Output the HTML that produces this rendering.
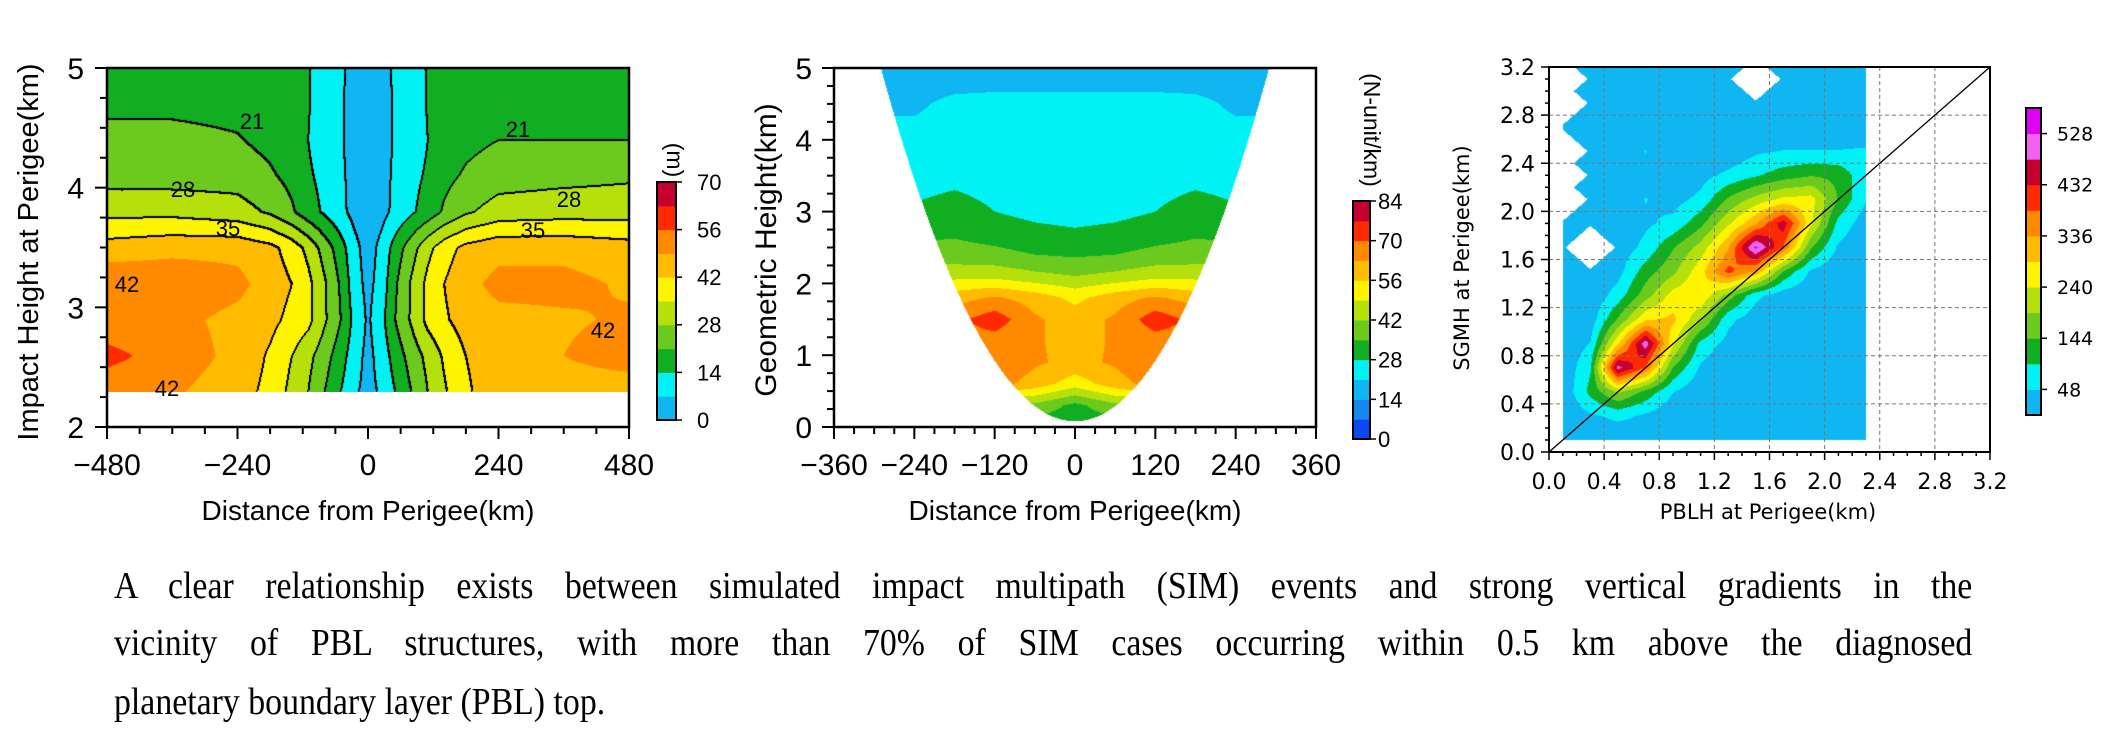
<!DOCTYPE html>
<html><head><meta charset="utf-8"><style>
html,body{margin:0;padding:0;background:#fff;}
body{width:2126px;height:744px;position:relative;overflow:hidden;font-family:"Liberation Sans",sans-serif;}
canvas{position:absolute;}
svg{position:absolute;left:0;top:0;}
.cap{position:absolute;left:114px;width:2088px;font-family:"Liberation Serif",serif;font-size:38px;line-height:58px;white-space:nowrap;color:#000;transform:scaleX(0.89);transform-origin:0 0;}
.j{text-align:justify;text-align-last:justify;}
</style></head><body>
<canvas id="c1"></canvas>
<canvas id="c2"></canvas>
<canvas id="c3"></canvas>
<svg id="ov" width="2126" height="744"></svg>
<div class="cap j" style="top:557px">A clear relationship exists between simulated impact multipath (SIM) events and strong vertical gradients in the</div>
<div class="cap j" style="top:614px">vicinity of PBL structures, with more than 70% of SIM cases occurring within 0.5 km above the diagnosed</div>
<div class="cap" style="top:673px">planetary boundary layer (PBL) top.</div>
<script>
// ---------- DATA ----------
const p1X = [-480,-360,-240,-180,-140,-110,-80,-50,-25,0,25,50,80,110,140,180,240,360,480];
const p1H = [2.3,2.6,2.9,3.2,3.5,3.8,4.1,4.4,4.7,5.0];
const p1Values = [
 [52,50,45,40,33,28,21,14,8,5,8,14,21,28,34,41,46,45,44],
 [58,53,47,41,35,30,24,17,10,5,10,17,24,30,36,42,46,49,53],
 [52,51,47,44,40,37,29,21,12,6,12,21,29,37,41,45,47,48,50],
 [55,54,51,46,42,37,29,20,10,5,10,20,29,37,42,47,51,51,48],
 [45,47,47,44,39,33,25,17,9,4,9,17,25,33,39,44,47,47,45],
 [33,33,31,27,22,17,13,8.5,5,3,5,8.5,13,17,22,27,31,32,32],
 [25,25,25,22,19,15,12,8,5,3,5,8,12,15,19,22,25,26,27],
 [23,23,21.5,19,16,14,10,7.5,5,3,5,7.5,10,14,16,19,21,21,21],
 [19.5,19.5,19,18,16,14.5,10,7.5,5,3,5,7.5,10,14.5,16,18,19,19,19],
 [16,16,16,15,15,14.5,11,8,5,3,5,8,11,14.5,15,15,16,16,16]
];
const p1Ticks = [0,14,28,42,56,70];
const p1ContourLevels = [7,14,21,28,35,42];

const p2X = [-300,-240,-180,-120,-60,0,60,120,180,240,300];
const p2H = [0,0.3,0.6,0.9,1.2,1.5,1.8,2.1,2.4,2.7,3.0,3.5,4.0,4.5,5.0];
const p2Values = [
 [30,30,30,30,30,30,30,30,30,30,30],
 [40,40,40,40,40,33,40,40,40,40,40],
 [60,60,66,66,60,52,60,66,66,60,60],
 [65,65,68,70,64,61,64,70,68,65,65],
 [66,66,67,67,64,60,64,67,67,66,66],
 [66,66,68,74,64,60,64,74,68,66,66],
 [58,58,60,64,60,54,60,64,60,58,58],
 [46,46,47,47,44,42,44,47,47,46,46],
 [38,38,38,37,35,34,35,37,38,38,38],
 [33,33,34,32,30,29,30,32,34,33,33],
 [29,29,31,28,26,25,26,28,31,29,29],
 [25,25,26,25,24,24,24,25,26,25,25],
 [23,23,23,23,23,23,23,23,23,23,23],
 [20,20,22.5,22.5,22.5,22.5,22.5,22.5,22.5,20,20],
 [17,17,17,18,18,18,18,18,17,17,17]
];
const p2Ticks = [0,14,28,42,56,70,84];

const p3X = [0.1,0.3,0.5,0.7,0.9,1.1,1.3,1.5,1.7,1.9,2.1,2.3];
const p3Y = [0.1,0.3,0.5,0.7,0.9,1.1,1.3,1.5,1.7,1.9,2.1,2.3,2.5,2.7,2.9,3.1];
const p3Values = [
 [10,10,10,30,10,10,10,10,10,10,10,10],
 [10,40,60,40,10,10,10,10,10,10,10,10],
 [10,110,200,130,50,10,10,10,10,10,10,10],
 [10,90,500,380,140,40,10,10,10,10,10,10],
 [10,50,280,510,250,80,30,10,10,10,10,10],
 [10,20,150,280,300,200,60,20,10,10,10,10],
 [10,10,70,170,260,280,170,60,20,10,10,10],
 [10,10,30,120,180,270,400,330,140,40,10,10],
 [10,null,20,60,140,210,330,540,380,150,40,10],
 [10,10,20,40,60,130,230,330,460,250,80,20],
 [null,10,10,50,30,60,150,210,250,260,140,50],
 [null,10,10,30,10,30,60,90,120,140,130,60],
 [null,10,10,50,10,10,10,40,50,50,50,55],
 [10,10,10,20,10,10,10,10,10,10,10,10],
 [null,10,10,10,10,10,10,10,10,10,10,10],
 [null,10,10,10,10,10,10,null,10,10,10,10]
];
const p3Ticks = [48,144,240,336,432,528];
const p3AxisTicks = [0,0.4,0.8,1.2,1.6,2.0,2.4,2.8,3.2];

// ---------- COLORS ----------
const C = {b3:'#0c48f0',b2:'#1688f2',dsb:'#10b6f2',cy:'#00f2f4',dg:'#12ae22',mg:'#6cca1e',yg:'#b6e00c',ye:'#fff400',oy:'#ffbb00',or:'#ff8a00',rd:'#ff2a00',cr:'#c6002e',vi:'#f262f0',mgt:'#e000f2'};
const cols1 = [C.dsb,C.cy,C.dg,C.mg,C.yg,C.ye,C.oy,C.or,C.rd,C.cr];
const cols2 = [C.b3,C.b2,C.dsb,C.cy,C.dg,C.mg,C.yg,C.ye,C.oy,C.or,C.rd,C.cr];
const cols3 = [C.dsb,C.cy,C.dg,C.mg,C.yg,C.ye,C.oy,C.or,C.rd,C.cr,C.vi,C.mgt];

function hex(c){return [parseInt(c.slice(1,3),16),parseInt(c.slice(3,5),16),parseInt(c.slice(5,7),16)];}
function seg(arr,v){let i=0;while(i<arr.length-2&&v>arr[i+1])i++;let t=(v-arr[i])/(arr[i+1]-arr[i]);t=Math.max(0,Math.min(1,t));return [i,t];}
function interp(xs,ys,vals,x,y){
 const [i,tx]=seg(xs,x),[j,ty]=seg(ys,y);
 const g=(r,c)=>{const v=vals[r][c];return v===null?10:v;};
 const a=g(j,i)*(1-tx)+g(j,i+1)*tx, b=g(j+1,i)*(1-tx)+g(j+1,i+1)*tx;
 return a*(1-ty)+b*ty;
}

// ---------- FIELD RENDER ----------
function field(id,L,T,Wd,Ht,xv0,xv1,yv0,yv1,xs,ys,vals,step,cols,mask,contours){
 const cv=document.getElementById(id);cv.width=Wd;cv.height=Ht;cv.style.left=L+'px';cv.style.top=T+'px';
 const ctx=cv.getContext('2d');const img=ctx.createImageData(Wd,Ht);const d=img.data;
 const rgb=cols.map(hex);const cls=new Int16Array(Wd*Ht).fill(-1);
 for(let py=0;py<Ht;py++){const y=yv1-(py+0.5)/Ht*(yv1-yv0);
  for(let px=0;px<Wd;px++){const x=xv0+(px+0.5)/Wd*(xv1-xv0);
   if(mask&&!mask(x,y))continue;
   const v=interp(xs,ys,vals,x,y);let k=Math.floor(v/step);k=Math.max(0,Math.min(cols.length-1,k));
   const o=(py*Wd+px)*4;d[o]=rgb[k][0];d[o+1]=rgb[k][1];d[o+2]=rgb[k][2];d[o+3]=255;
   if(contours){let c=0;for(const l of contours)if(v>=l)c++;cls[py*Wd+px]=c;}
  }}
 if(contours){for(let py=0;py<Ht-1;py++)for(let px=0;px<Wd-1;px++){const c=cls[py*Wd+px];if(c<0)continue;
   const r=cls[py*Wd+px+1],b=cls[(py+1)*Wd+px];
   if((r>=0&&r!==c)||(b>=0&&b!==c)){for(const [dx,dy] of [[0,0],[1,0],[0,1]]){const o=((py+dy)*Wd+px+dx)*4;d[o]=0;d[o+1]=0;d[o+2]=0;d[o+3]=255;}}}}
 ctx.putImageData(img,0,0);
}
field('c1',107,68,522,324,-480,480,2.3,5,p1X,p1H,p1Values,7,cols1,null,p1ContourLevels);
field('c2',834,68,482,359,-360,360,0,5,p2X,p2H,p2Values,7,cols2,(x,h)=>Math.abs(x)<=290*Math.sqrt(Math.max(0,h-0.08)/4.92),null);
const p3Null=[];p3Values.forEach((r,j)=>r.forEach((v,i)=>{if(v===null)p3Null.push([i,j]);}));
field('c3',1549,67,441,385,0,3.2,0,3.2,p3X,p3Y,p3Values,48,cols3,(x,y)=>{
 if(x<0.1||x>2.3||y<0.1)return false;
 const fx=(x-0.1)/0.2,fy=(y-0.1)/0.2;
 for(const [i,j] of p3Null){if(Math.abs(fx-i)+Math.abs(fy-j)<0.9)return false;}
 return true;},null);

// ---------- SVG OVERLAY ----------
const NS='http://www.w3.org/2000/svg';const ov=document.getElementById('ov');
function mk(tag,a,p){const e=document.createElementNS(NS,tag);for(const k in a)e.setAttribute(k,a[k]);(p||ov).appendChild(e);return e;}
function line(x1,y1,x2,y2,w,extra){return mk('line',Object.assign({x1,y1,x2,y2,stroke:'#000','stroke-width':w},extra||{}));}
function txt(s,x,y,size,anchor,fam,rot){const e=mk('text',{x,y,'font-size':size,'text-anchor':anchor||'middle','font-family':fam||'Liberation Sans, sans-serif',fill:'#000'});if(rot)e.setAttribute('transform','rotate('+rot+' '+x+' '+y+')');e.textContent=s;return e;}

// Panel 1 axes
const a1={x0:107,x1:629,y0:68,y1:427};
const sx1=v=>a1.x0+(v+480)/960*(a1.x1-a1.x0), sy1=v=>a1.y1-(v-2)/3*(a1.y1-a1.y0);
let fr=mk('rect',{x:a1.x0,y:a1.y0,width:a1.x1-a1.x0,height:a1.y1-a1.y0,fill:'none',stroke:'#000','stroke-width':2.5});


for(let v=-480;v<=480;v+=60){const maj=v%240===0;const t=line(sx1(v),a1.y1,sx1(v),a1.y1+(maj?12:7),2);
 
 
 if(maj){const l=txt(v<0?'\u2212'+(-v):String(v),sx1(v),475,30);
  
  }}
for(let v=2;v<=5.001;v+=0.25){const maj=Math.abs(v-Math.round(v))<1e-6;const t=line(a1.x0-(maj?12:7),sy1(v),a1.x0,sy1(v),2);
 
 
 if(maj){const l=txt(String(Math.round(v)),84,sy1(v)+11,30,'end');
  
  }}
let t1=txt('Distance from Perigee(km)',368,520,28);


let t2=txt('Impact Height at Perigee(km)',38,252,29,'middle',null,-90);


const cLabels=[['21',252,129],['21',518,137],['28',183,197],['28',569,207],['35',228,236],['35',533,238],['42',127,292],['42',603,338],['42',167,396]];
for(const [s,x,y] of cLabels){const e=txt(s,x,y,22);
 
 }

function colorbar(x0,x1,y0,y1,cols,vmax,ticks,lx,size,fam,name){
 const n=cols.length,h=(y1-y0)/n;
 cols.forEach((c,i)=>{const r=mk('rect',{x:x0,y:y1-(i+1)*h,width:x1-x0,height:h+0.5,fill:c});
  
  });
 const f=mk('rect',{x:x0,y:y0,width:x1-x0,height:y1-y0,fill:'none',stroke:'#000','stroke-width':2});
 
 
 ticks.forEach(v=>{const y=y1-v/vmax*(y1-y0);const t=line(x1,y,x1+6,y,1.5);
  
  
  const l=txt(String(v),lx,y+size*0.36,size,'start',fam);
  
  });
}
colorbar(657,676,182,420,cols1,70,p1Ticks,697,22,null,'colorbar1');
let u1=txt('(m)',667,160,23,'middle',null,90);



// Panel 2 axes
const a2={x0:834,x1:1316,y0:68,y1:427};
const sx2=v=>a2.x0+(v+360)/720*(a2.x1-a2.x0), sy2=v=>a2.y1-v/5*(a2.y1-a2.y0);
fr=mk('rect',{x:a2.x0,y:a2.y0,width:a2.x1-a2.x0,height:a2.y1-a2.y0,fill:'none',stroke:'#000','stroke-width':2.5});


for(let v=-360;v<=360;v+=30){const maj=v%120===0;const t=line(sx2(v),a2.y1,sx2(v),a2.y1+(maj?12:7),2);
 
 
 if(maj){const l=txt(v<0?'\u2212'+(-v):String(v),sx2(v),475,30);
  
  }}
for(let v=0;v<=5.001;v+=0.25){const maj=Math.abs(v-Math.round(v))<1e-6;const t=line(a2.x0-(maj?12:7),sy2(v),a2.x0,sy2(v),2);
 
 
 if(maj){const l=txt(String(Math.round(v)),812,sy2(v)+11,30,'end');
  
  }}
t1=txt('Distance from Perigee(km)',1075,520,28);


t2=txt('Geometric Height(km)',776,250,30,'middle',null,-90);


colorbar(1353,1370,201,439,cols2,84,p2Ticks,1378,22,null,'colorbar2');
u1=txt('(N-unit/km)',1364,130,23,'middle',null,90);



// Panel 3 axes
const a3={x0:1549,x1:1990,y0:67,y1:452};
const sx3=v=>a3.x0+v/3.2*(a3.x1-a3.x0), sy3=v=>a3.y1-v/3.2*(a3.y1-a3.y0);
p3AxisTicks.forEach(v=>{if(v>0&&v<3.2){
 const g1=line(sx3(v),a3.y0,sx3(v),a3.y1,1,{stroke:'#777','stroke-dasharray':'4,3'});
 
 
 const g2=line(a3.x0,sy3(v),a3.x1,sy3(v),1,{stroke:'#777','stroke-dasharray':'4,3'});
 
 }});
const dg=line(sx3(0),sy3(0),sx3(3.2),sy3(3.2),1.3);


fr=mk('rect',{x:a3.x0,y:a3.y0,width:a3.x1-a3.x0,height:a3.y1-a3.y0,fill:'none',stroke:'#000','stroke-width':2});


for(let k=0;k<=32;k++){const v=k/10;const maj=k%4===0;
 const t=line(sx3(v),a3.y1,sx3(v),a3.y1+(maj?8:4),1.5);
 
 
 const u=line(a3.x0-(maj?8:4),sy3(v),a3.x0,sy3(v),1.5);
 
 }
p3AxisTicks.forEach(v=>{
 const l=txt(v.toFixed(1),sx3(v),489,22,'middle','DejaVu Sans, sans-serif');
 
 
 const m=txt(v.toFixed(1),1535,sy3(v)+8,22,'end','DejaVu Sans, sans-serif');
 
 });
t1=txt('PBLH at Perigee(km)',1768,519,21,'middle','DejaVu Sans, sans-serif');


t2=txt('SGMH at Perigee(km)',1469,258,21,'middle','DejaVu Sans, sans-serif',-90);


colorbar(2026,2041,108,415,cols3,576,p3Ticks,2057,19,'DejaVu Sans, sans-serif','colorbar3');
</script>
</body></html>
